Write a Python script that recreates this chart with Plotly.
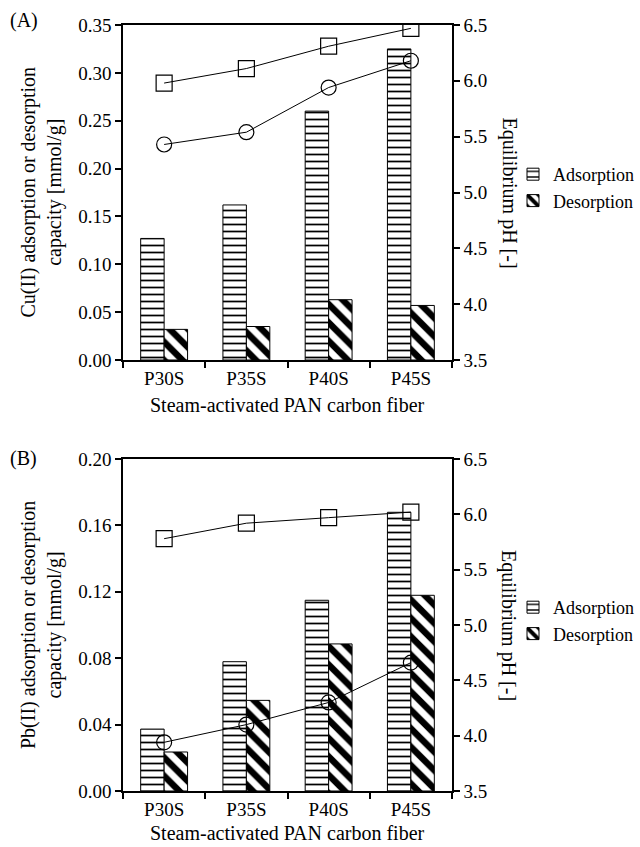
import plotly.graph_objects as go

categories = ["P30S", "P35S", "P40S", "P45S"]

# Panel A: Cu(II)
cu_adsorption = [0.127, 0.162, 0.260, 0.325]
cu_desorption = [0.032, 0.035, 0.063, 0.057]
cu_ph_ads = [5.98, 6.11, 6.31, 6.47]      # squares
cu_ph_des = [5.43, 5.54, 5.94, 6.18]      # circles

# Panel B: Pb(II)
pb_adsorption = [0.0373, 0.0779, 0.1149, 0.1679]
pb_desorption = [0.0235, 0.0546, 0.0886, 0.1179]
pb_ph_ads = [5.78, 5.92, 5.97, 6.02]
pb_ph_des = [3.94, 4.10, 4.30, 4.66]

FONT = "Liberation Serif, Times New Roman, serif"
W, H = 640, 847

def px_x(p):
    return p / W

def px_y(p):
    return 1 - p / H

ads_pattern = dict(shape="-", fgcolor="black", bgcolor="white", size=7, solidity=0.25,
                   fillmode="replace", fgopacity=1)
des_pattern = dict(shape="\\", fgcolor="black", bgcolor="white", size=13, solidity=0.5,
                   fillmode="replace", fgopacity=1)

fig = go.Figure()

def add_panel(xa, ya, ya2, ads, des, ph1, ph2, legend):
    fig.add_trace(go.Bar(x=categories, y=ads, name="Adsorption", xaxis=xa, yaxis=ya,
                         marker=dict(color="white", line=dict(color="black", width=1), pattern=ads_pattern),
                         legend=legend))
    fig.add_trace(go.Bar(x=categories, y=des, name="Desorption", xaxis=xa, yaxis=ya,
                         marker=dict(color="white", line=dict(color="black", width=1), pattern=des_pattern),
                         legend=legend))
    fig.add_trace(go.Scatter(x=categories, y=ph1, mode="lines+markers", xaxis=xa, yaxis=ya2,
                             line=dict(color="black", width=1),
                             marker=dict(symbol="square-open", size=16, color="black", line=dict(width=1.2)),
                             showlegend=False))
    fig.add_trace(go.Scatter(x=categories, y=ph2, mode="lines+markers", xaxis=xa, yaxis=ya2,
                             line=dict(color="black", width=1),
                             marker=dict(symbol="circle-open", size=15, color="black", line=dict(width=1.2)),
                             showlegend=False))

add_panel("x", "y", "y2", cu_adsorption, cu_desorption, cu_ph_ads, cu_ph_des, "legend")
add_panel("x2", "y3", "y4", pb_adsorption, pb_desorption, pb_ph_ads, pb_ph_des, "legend2")

xdom = [px_x(123), px_x(452)]
domA = [px_y(360), px_y(25)]
domB = [px_y(791), px_y(459)]

tickfont = dict(family=FONT, size=19, color="black")
axis_common = dict(showline=True, linecolor="black", linewidth=1.5, ticks="outside",
                   ticklen=6, tickwidth=1.5, tickcolor="black", tickfont=tickfont,
                   showgrid=False, zeroline=False, automargin=False)

xcommon = dict(axis_common, type="category", range=[-0.5, 3.5], tickson="boundaries", mirror=True)

fig.update_layout(
    width=W, height=H,
    margin=dict(l=0, r=0, t=0, b=0, autoexpand=False),
    paper_bgcolor="white", plot_bgcolor="white",
    font=dict(family=FONT, size=19, color="black"),
    barmode="group", bargap=0.43, bargroupgap=0,
    xaxis=dict(xcommon, domain=xdom, anchor="y"),
    yaxis=dict(axis_common, domain=domA, anchor="x", range=[0, 0.35], dtick=0.05, tickformat=".2f"),
    yaxis2=dict(axis_common, domain=domA, anchor="x", overlaying="y", side="right",
                range=[3.5, 6.5], dtick=0.5, tickformat=".1f"),
    xaxis2=dict(xcommon, domain=xdom, anchor="y3"),
    yaxis3=dict(axis_common, domain=domB, anchor="x2", range=[0, 0.20], dtick=0.04, tickformat=".2f"),
    yaxis4=dict(axis_common, domain=domB, anchor="x2", overlaying="y3", side="right",
                range=[3.5, 6.5], dtick=0.5, tickformat=".1f"),
    legend=dict(x=px_x(513), y=px_y(156), xanchor="left", yanchor="top",
                bgcolor="rgba(0,0,0,0)", font=dict(family=FONT, size=18), tracegroupgap=0),
    legend2=dict(x=px_x(513), y=px_y(589), xanchor="left", yanchor="top",
                 bgcolor="rgba(0,0,0,0)", font=dict(family=FONT, size=18), tracegroupgap=0),
)

ann_font = dict(family=FONT, size=20, color="black")
annotations = [
    dict(text="(A)", x=px_x(8), y=px_y(20), xanchor="left", yanchor="middle"),
    dict(text="(B)", x=px_x(8), y=px_y(458), xanchor="left", yanchor="middle"),
    dict(text="Steam-activated PAN carbon fiber", x=px_x(287.5), y=px_y(405), xanchor="center", yanchor="middle"),
    dict(text="Steam-activated PAN carbon fiber", x=px_x(287.5), y=px_y(846), xanchor="center", yanchor="bottom"),
    dict(text="Cu(II) adsorption or desorption<br>capacity [mmol/g]", x=px_x(41), y=px_y(192.5),
         xanchor="center", yanchor="middle", textangle=-90),
    dict(text="Pb(II) adsorption or desorption<br>capacity [mmol/g]", x=px_x(41), y=px_y(625),
         xanchor="center", yanchor="middle", textangle=-90),
    dict(text="Equilibrium pH [-]", x=px_x(509), y=px_y(192.5), xanchor="center", yanchor="middle", textangle=90),
    dict(text="Equilibrium pH [-]", x=px_x(509), y=px_y(625), xanchor="center", yanchor="middle", textangle=90),
]
for a in annotations:
    fig.add_annotation(xref="paper", yref="paper", showarrow=False, font=ann_font, **a)

fig.write_html("out.html")
